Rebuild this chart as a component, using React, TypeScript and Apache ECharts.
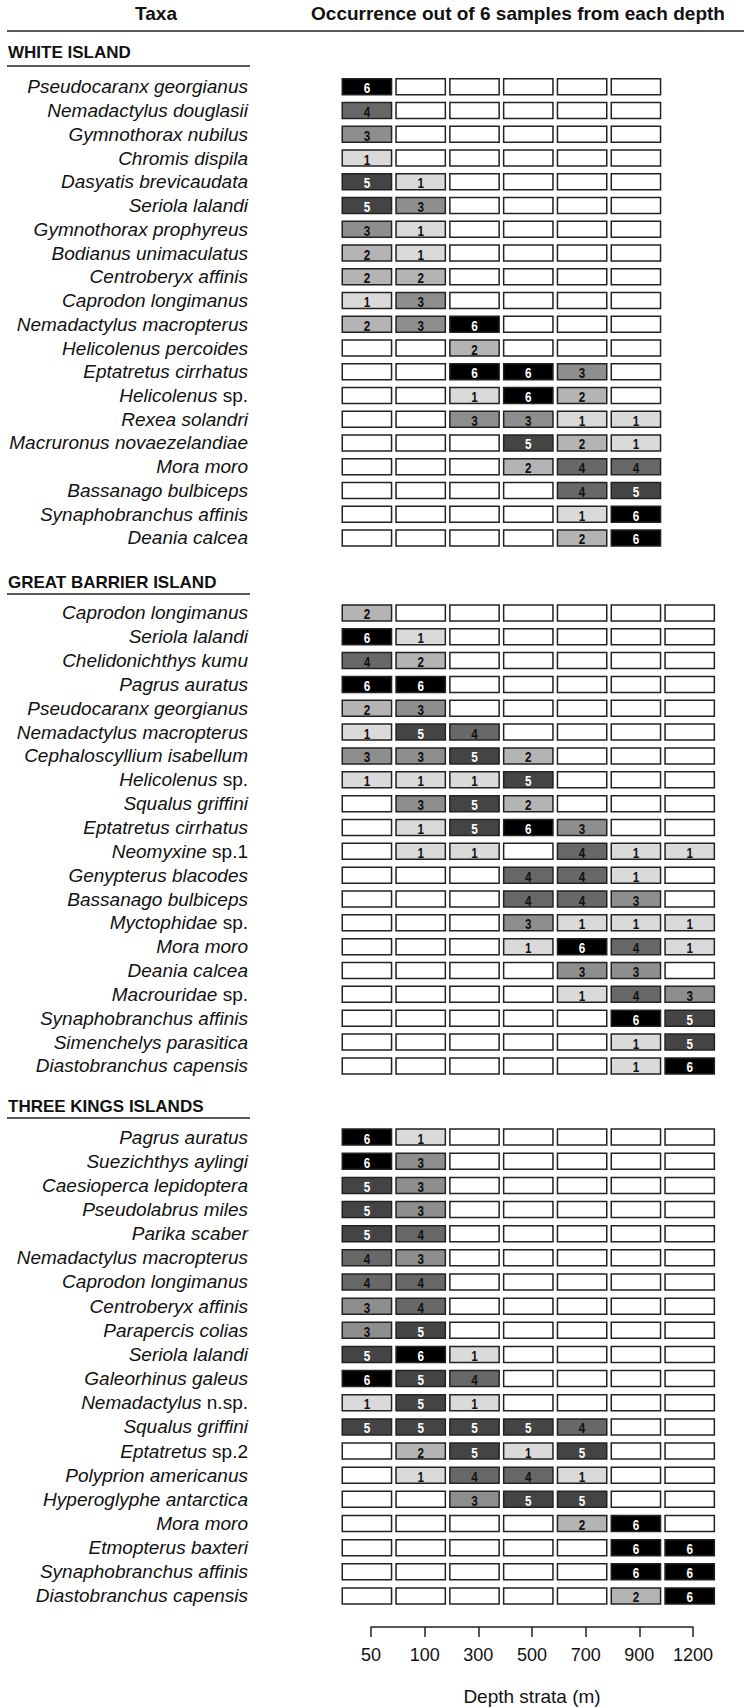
import React, { useEffect, useRef } from "react";
import * as echarts from "echarts";

const depths = ["50", "100", "300", "500", "700", "900", "1200"];

const whiteTaxa = [
  "Pseudocaranx georgianus", "Nemadactylus douglasii", "Gymnothorax nubilus", "Chromis dispila",
  "Dasyatis brevicaudata", "Seriola lalandi", "Gymnothorax prophyreus", "Bodianus unimaculatus",
  "Centroberyx affinis", "Caprodon longimanus", "Nemadactylus macropterus", "Helicolenus percoides",
  "Eptatretus cirrhatus", "Helicolenus sp.", "Rexea solandri", "Macruronus novaezelandiae",
  "Mora moro", "Bassanago bulbiceps", "Synaphobranchus affinis", "Deania calcea",
];
const whiteValues = [
  [6, 0, 0, 0, 0, 0], [4, 0, 0, 0, 0, 0], [3, 0, 0, 0, 0, 0], [1, 0, 0, 0, 0, 0],
  [5, 1, 0, 0, 0, 0], [5, 3, 0, 0, 0, 0], [3, 1, 0, 0, 0, 0], [2, 1, 0, 0, 0, 0],
  [2, 2, 0, 0, 0, 0], [1, 3, 0, 0, 0, 0], [2, 3, 6, 0, 0, 0], [0, 0, 2, 0, 0, 0],
  [0, 0, 6, 6, 3, 0], [0, 0, 1, 6, 2, 0], [0, 0, 3, 3, 1, 1], [0, 0, 0, 5, 2, 1],
  [0, 0, 0, 2, 4, 4], [0, 0, 0, 0, 4, 5], [0, 0, 0, 0, 1, 6], [0, 0, 0, 0, 2, 6],
];

const gbiTaxa = [
  "Caprodon longimanus", "Seriola lalandi", "Chelidonichthys kumu", "Pagrus auratus",
  "Pseudocaranx georgianus", "Nemadactylus macropterus", "Cephaloscyllium isabellum", "Helicolenus sp.",
  "Squalus griffini", "Eptatretus cirrhatus", "Neomyxine sp.1", "Genypterus blacodes",
  "Bassanago bulbiceps", "Myctophidae sp.", "Mora moro", "Deania calcea",
  "Macrouridae sp.", "Synaphobranchus affinis", "Simenchelys parasitica", "Diastobranchus capensis",
];
const gbiValues = [
  [2, 0, 0, 0, 0, 0, 0], [6, 1, 0, 0, 0, 0, 0], [4, 2, 0, 0, 0, 0, 0], [6, 6, 0, 0, 0, 0, 0],
  [2, 3, 0, 0, 0, 0, 0], [1, 5, 4, 0, 0, 0, 0], [3, 3, 5, 2, 0, 0, 0], [1, 1, 1, 5, 0, 0, 0],
  [0, 3, 5, 2, 0, 0, 0], [0, 1, 5, 6, 3, 0, 0], [0, 1, 1, 0, 4, 1, 1], [0, 0, 0, 4, 4, 1, 0],
  [0, 0, 0, 4, 4, 3, 0], [0, 0, 0, 3, 1, 1, 1], [0, 0, 0, 1, 6, 4, 1], [0, 0, 0, 0, 3, 3, 0],
  [0, 0, 0, 0, 1, 4, 3], [0, 0, 0, 0, 0, 6, 5], [0, 0, 0, 0, 0, 1, 5], [0, 0, 0, 0, 0, 1, 6],
];

const tkiTaxa = [
  "Pagrus auratus", "Suezichthys aylingi", "Caesioperca lepidoptera", "Pseudolabrus miles",
  "Parika scaber", "Nemadactylus macropterus", "Caprodon longimanus", "Centroberyx affinis",
  "Parapercis colias", "Seriola lalandi", "Galeorhinus galeus", "Nemadactylus n.sp.",
  "Squalus griffini", "Eptatretus sp.2", "Polyprion americanus", "Hyperoglyphe antarctica",
  "Mora moro", "Etmopterus baxteri", "Synaphobranchus affinis", "Diastobranchus capensis",
];
const tkiValues = [
  [6, 1, 0, 0, 0, 0, 0], [6, 3, 0, 0, 0, 0, 0], [5, 3, 0, 0, 0, 0, 0], [5, 3, 0, 0, 0, 0, 0],
  [5, 4, 0, 0, 0, 0, 0], [4, 3, 0, 0, 0, 0, 0], [4, 4, 0, 0, 0, 0, 0], [3, 4, 0, 0, 0, 0, 0],
  [3, 5, 0, 0, 0, 0, 0], [5, 6, 1, 0, 0, 0, 0], [6, 5, 4, 0, 0, 0, 0], [1, 5, 1, 0, 0, 0, 0],
  [5, 5, 5, 5, 4, 0, 0], [0, 2, 5, 1, 5, 0, 0], [0, 1, 4, 4, 1, 0, 0], [0, 0, 3, 5, 5, 0, 0],
  [0, 0, 0, 0, 2, 6, 0], [0, 0, 0, 0, 0, 6, 6], [0, 0, 0, 0, 0, 6, 6], [0, 0, 0, 0, 0, 2, 6],
];

const sectionTitles = ["WHITE ISLAND", "GREAT BARRIER ISLAND", "THREE KINGS ISLANDS"];

const FONT = "'Liberation Sans', Arial, Helvetica, sans-serif";
const shades = ["#ffffff", "#dadada", "#b4b4b4", "#8e8e8e", "#686868", "#444444", "#000000"];

function toData(values: number[][]) {
  const out: number[][] = [];
  values.forEach((row, r) => row.forEach((v, c) => out.push([c, r, v])));
  return out;
}

function labelFormatter(name: string) {
  const m = name.match(/^(.*?)( (?:n\.)?sp\.\d?)$/);
  if (m) return `{i|${m[1]}}{n|${m[2]}}`;
  return `{i|${name}}`;
}

const renderCell = (params: any, api: any) => {
  const c = api.value(0);
  const r = api.value(1);
  const v = api.value(2);
  const p = api.coord([c, r]);
  const s = api.size([1, 1]);
  const w = s[0] - 4.5;
  const h = 16;
  const children: any[] = [
    {
      type: "rect",
      shape: { x: p[0] - w / 2, y: p[1] - h / 2, width: w, height: h },
      style: { fill: shades[v], stroke: "#222", lineWidth: 1.5 },
    },
  ];
  if (v > 0) {
    children.push({
      type: "text",
      x: p[0],
      y: p[1] + 1.5,
      scaleX: 0.78,
      style: {
        text: String(v),
        x: 0,
        y: 0,
        align: "center",
        verticalAlign: "middle",
        textAlign: "center",
        textVerticalAlign: "middle",
        fill: v >= 5 ? "#ffffff" : "#111111",
        font: `bold 15px ${FONT}`,
      },
    });
  }
  return { type: "group", children };
};

export default function App() {
  const ref = useRef<HTMLDivElement>(null);
  useEffect(() => {
    document.body.style.margin = "0";
    const chart = echarts.init(ref.current!, undefined, { renderer: "svg" });
    const colW = 53.8;
    const sections = [
      { taxa: whiteTaxa, values: whiteValues, cols: 6, top: 75, height: 474.8, title: 52, line: 66 },
      { taxa: gbiTaxa, values: gbiValues, cols: 7, top: 601, height: 476.8, title: 582, line: 594 },
      { taxa: tkiTaxa, values: tkiValues, cols: 7, top: 1125, height: 483, title: 1106, line: 1118 },
    ];
    const grids: any[] = [];
    const xAxes: any[] = [];
    const yAxes: any[] = [];
    const series: any[] = [];
    const graphics: any[] = [
      {
        type: "text",
        style: { text: "Taxa", x: 156, y: 13, align: "center", verticalAlign: "middle", textAlign: "center", textVerticalAlign: "middle", font: `bold 19px ${FONT}`, fill: "#111" },
      },
      {
        type: "text",
        style: { text: "Occurrence out of 6 samples from each depth", x: 518, y: 13, align: "center", verticalAlign: "middle", textAlign: "center", textVerticalAlign: "middle", font: `bold 19px ${FONT}`, fill: "#111" },
      },
      { type: "line", shape: { x1: 7, y1: 31, x2: 744, y2: 31 }, style: { stroke: "#222", lineWidth: 1.5 } },
    ];
    sections.forEach((sec, i) => {
      grids.push({ left: 340, top: sec.top, width: colW * sec.cols, height: sec.height });
      xAxes.push({
        type: "category", gridIndex: i, data: depths.slice(0, sec.cols), show: false,
      });
      yAxes.push({
        type: "category", gridIndex: i, data: sec.taxa, inverse: true,
        axisLine: { show: false }, axisTick: { show: false }, splitLine: { show: false },
        axisLabel: {
          interval: 0, hideOverlap: false,
          margin: 92, color: "#111", fontSize: 19, fontFamily: FONT,
          formatter: labelFormatter,
          rich: {
            i: { fontStyle: "italic", fontSize: 19, fontFamily: FONT, color: "#111" },
            n: { fontStyle: "normal", fontSize: 19, fontFamily: FONT, color: "#111" },
          },
        },
      });
      series.push({
        type: "custom", coordinateSystem: "cartesian2d", xAxisIndex: i, yAxisIndex: i,
        renderItem: renderCell, data: toData(sec.values), encode: { x: 0, y: 1 },
      });
      graphics.push({
        type: "text",
        style: { text: sectionTitles[i], x: 8, y: sec.title, align: "left", verticalAlign: "middle", textAlign: "left", textVerticalAlign: "middle", font: `bold 17px ${FONT}`, fill: "#111" },
      });
      graphics.push({ type: "line", shape: { x1: 7, y1: sec.line, x2: 250, y2: sec.line }, style: { stroke: "#222", lineWidth: 1.5 } });
    });
    // depth axis
    grids.push({ left: 371, top: 1600, width: 322, height: 27 });
    xAxes.push({
      type: "value", gridIndex: 3, min: 0, max: 6, interval: 1,
      name: "Depth strata (m)", nameLocation: "middle", nameGap: 60,
      nameTextStyle: { fontSize: 19, fontFamily: FONT, color: "#111" },
      axisLine: { lineStyle: { color: "#222", width: 1.5 } },
      axisTick: { length: 10, lineStyle: { color: "#222", width: 1.5 } },
      splitLine: { show: false },
      axisLabel: {
        margin: 19, fontSize: 18, fontFamily: FONT, color: "#111",
        formatter: (v: number) => depths[Math.round(v)] ?? "",
      },
    });
    yAxes.push({ type: "value", gridIndex: 3, show: false });

    chart.setOption({
      animation: false,
      backgroundColor: "#ffffff",
      grid: grids,
      xAxis: xAxes,
      yAxis: yAxes,
      series,
      graphic: graphics,
    });
    return () => chart.dispose();
  }, []);
  return <div ref={ref} style={{ width: 750, height: 1707 }} />;
}
